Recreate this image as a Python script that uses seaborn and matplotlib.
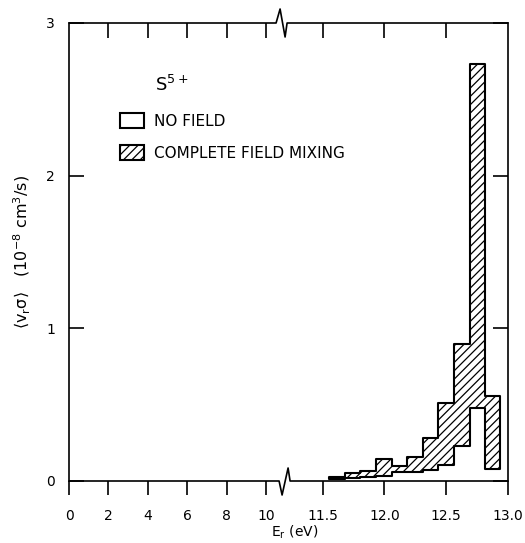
import numpy as np
import matplotlib.pyplot as plt
import seaborn as sns
from matplotlib.patches import Patch

# rate coefficient histogram for S5+, energy bins in eV
bin_edges = [11.55, 11.68, 11.805, 11.93, 12.06, 12.185, 12.31, 12.435, 12.56, 12.69, 12.81, 12.935]
no_field = [0.01, 0.02, 0.025, 0.035, 0.06, 0.06, 0.07, 0.105, 0.23, 0.48, 0.08]
field_mixing = [0.025, 0.055, 0.065, 0.145, 0.095, 0.16, 0.28, 0.51, 0.90, 2.73, 0.56]

x_ticks = [0, 2, 4, 6, 8, 10, 11.5, 12.0, 12.5, 13.0]
x_ticklabels = ['0', '2', '4', '6', '8', '10', '11.5', '12.0', '12.5', '13.0']
top_ticks = [2, 4, 6, 8, 10, 11.5, 12.0, 12.5]
y_ticks = [0, 1, 2, 3]

# broken energy axis: 0..10.86 compressed, 11.18..13 stretched
BRK_L, BRK_R = 10.86, 11.18
SL, SR = 19.7, 123.5


def fwd(e):
    e = np.asarray(e, dtype=float)
    return np.where(e <= BRK_L, SL * e, SL * BRK_L + SR * np.clip(e - BRK_R, 0, None))


def inv(u):
    u = np.asarray(u, dtype=float)
    return np.where(u <= SL * BRK_L, u / SL, BRK_R + (u - SL * BRK_L) / SR)


sns.set_theme(style='ticks', rc={'axes.edgecolor': 'black', 'xtick.color': 'black',
                                 'ytick.color': 'black', 'text.color': 'black',
                                 'axes.labelcolor': 'black'})
plt.rcParams['font.family'] = ['DejaVu Sans']
plt.rcParams['mathtext.default'] = 'regular'
plt.rcParams['hatch.linewidth'] = 0.9

W, H = 439, 458  # axes size in px
fig = plt.figure(figsize=(5.25, 5.43), dpi=100)
ax = fig.add_axes([69 / 525, 1 - 481 / 543, W / 525, H / 543])
ax.set_xscale('function', functions=(fwd, inv))
ax.set_xlim(0, 13.0)
ax.set_ylim(0, 3)

# hatched band between no-field and field-mixing histograms
ax.fill_between(bin_edges, no_field + [no_field[-1]], field_mixing + [field_mixing[-1]],
                step='post', facecolor='white', edgecolor='black', hatch='////', linewidth=1.5)

# spines with axis-break zigzags
for s in ['top', 'bottom']:
    ax.spines[s].set_visible(False)
for s in ['left', 'right']:
    ax.spines[s].set_linewidth(1.2)
bx = float(fwd(BRK_L) / fwd(13.0))
top_x = [0, bx - 7 / W, bx - 3 / W, bx + 2 / W, bx + 4 / W, 1]
top_y = [1, 1, 1 + 14 / H, 1 - 14 / H, 1, 1]
bot_x = [0, bx - 4 / W, bx - 1 / W, bx + 5 / W, bx + 7 / W, 1]
bot_y = [0, 0, -14 / H, 13 / H, 0, 0]
ax.plot(top_x, top_y, transform=ax.transAxes, color='black', lw=1.2, clip_on=False)
ax.plot(bot_x, bot_y, transform=ax.transAxes, color='black', lw=1.2, clip_on=False)

ax.set_xticks(x_ticks, x_ticklabels)
ax.set_xticks(top_ticks, minor=True)
ax.xaxis.remove_overlapping_locs = False
ax.tick_params(axis='x', which='major', direction='out', length=10, width=1.2,
               bottom=True, top=False, pad=10, labelsize=10)
ax.tick_params(axis='x', which='minor', direction='in', length=11, width=1.2,
               bottom=False, top=True)
ax.set_yticks(y_ticks)
ax.tick_params(axis='y', which='major', direction='in', length=11, width=1.2,
               left=True, right=True, pad=10, labelsize=10)
ax.tick_params(axis='y', which='minor', left=False, right=False)

ax.set_xlabel(r'E$_r$ (eV)', fontsize=10)
ax.xaxis.set_label_coords(0.515, -0.094)
ax.set_ylabel(r'$\langle v_r\sigma\rangle$   $(10^{-8}$ cm$^3$/s$)$', fontsize=11.5)
ax.yaxis.set_label_coords(-0.082, 0.5)

ax.text(0.196, 0.865, r'S$^{5+}$', transform=ax.transAxes, fontsize=13, va='center', ha='left')
handles = [Patch(facecolor='white', edgecolor='black', linewidth=1.5, label='NO FIELD'),
           Patch(facecolor='white', edgecolor='black', linewidth=1.5, hatch='////',
                 label='COMPLETE FIELD MIXING')]
ax.legend(handles=handles, loc='upper left', bbox_to_anchor=(0.116, 0.803), frameon=False,
          borderpad=0, borderaxespad=0, handlelength=1.6, handleheight=1.15,
          handletextpad=0.65, labelspacing=1.05, fontsize=11)

fig.savefig('out.png', dpi=100)
